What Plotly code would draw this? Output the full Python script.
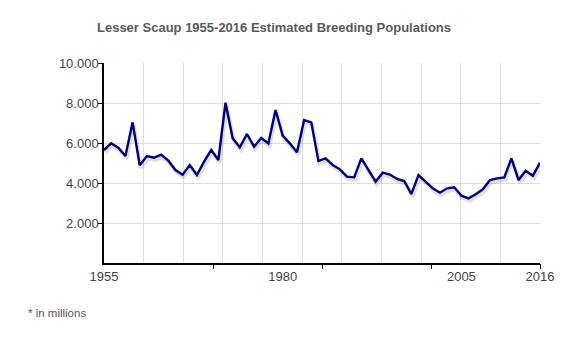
import plotly.graph_objects as go

years = list(range(1955, 2017))
population = [
    5650, 5983, 5767, 5350, 7033, 4883, 5350, 5267, 5417, 5117,
    4650, 4417, 4900, 4400, 5067, 5650, 5150, 8017, 6233, 5783,
    6450, 5817, 6250, 5983, 7650, 6367, 5983, 5533, 7150, 7033,
    5100, 5233, 4900, 4683, 4317, 4283, 5233, 4650, 4067, 4517,
    4420, 4200, 4100, 3450, 4400, 4067, 3733, 3517, 3733, 3783,
    3367, 3233, 3433, 3683, 4150, 4233, 4283, 5233, 4150, 4617,
    4367, 5017,
]
x_labels = [1955, 1980, 2005, 2016]
y_ticks = [2000, 4000, 6000, 8000, 10000]
x_marks = [1955 + 61 * k / 4 for k in range(1, 5)]

x0, x1 = 1955, 2016
y0, y1 = 0, 10000
font = "Liberation Sans, Arial, sans-serif"

px_per_year = 436 / 61
px_per_val = 200 / 10000
sx = 1.2 / px_per_year
sy = 2.5 / px_per_val

fig = go.Figure()
# soft shadow under the line (same data, axes shifted by a couple of pixels)
fig.add_trace(go.Scatter(
    x=years, y=population, xaxis="x4", yaxis="y2", mode="lines",
    line=dict(color="rgba(0,0,0,0.13)", width=4), hoverinfo="skip",
    showlegend=False,
))
fig.add_trace(go.Scatter(
    x=years, y=population, xaxis="x", yaxis="y", mode="lines",
    line=dict(color="#000080", width=2.4), showlegend=False,
))
# invisible helpers so the tick-only axes get drawn
for ax in ("x2", "x3"):
    fig.add_trace(go.Scatter(
        x=[x0, x1], y=[y0, y0], xaxis=ax, yaxis="y", mode="lines",
        line=dict(width=0, color="rgba(0,0,0,0)"), hoverinfo="skip",
        showlegend=False,
    ))

fig.update_layout(
    width=580, height=350,
    margin=dict(l=104, r=40, t=63, b=87),
    paper_bgcolor="white", plot_bgcolor="white",
    separators=",.",
    font=dict(family=font, size=13, color="#444"),
    title=dict(
        text="<b>Lesser Scaup 1955-2016 Estimated Breeding Populations</b>",
        x=274 / 580, xanchor="center", y=1 - 27 / 350, yanchor="middle",
        font=dict(family=font, size=13, color="#595959"),
    ),
    xaxis=dict(
        range=[x0, x1], tickmode="linear", tick0=1955, dtick=61 / 11,
        showticklabels=False, ticks="",
        showgrid=True, gridcolor="#dddddd", gridwidth=1, zeroline=False,
        showline=True, linecolor="#000", linewidth=1.5,
    ),
    xaxis2=dict(
        overlaying="x", anchor="y", range=[x0, x1], tickvals=x_marks,
        showticklabels=False, ticks="outside", ticklen=5, tickcolor="#000",
        showgrid=False, zeroline=False, showline=False, side="bottom",
    ),
    xaxis3=dict(
        overlaying="x", anchor="y", range=[x0, x1], tickvals=x_labels,
        ticktext=[str(v) for v in x_labels], ticks="", showgrid=False,
        zeroline=False, showline=False, side="bottom",
        ticklabelstandoff=4,
        tickfont=dict(family=font, size=13, color="#444"),
    ),
    xaxis4=dict(
        overlaying="x", anchor="y2", range=[x0 - sx, x1 - sx], visible=False,
    ),
    yaxis=dict(
        range=[y0, y1], tickvals=y_ticks, tickformat=",d",
        ticks="outside", ticklen=4, tickcolor="#000",
        showgrid=True, gridcolor="#dddddd", gridwidth=1, zeroline=False,
        showline=True, linecolor="#000", linewidth=1.5,
        ticklabelstandoff=-3,
        tickfont=dict(family=font, size=13, color="#444"),
    ),
    yaxis2=dict(
        overlaying="y", anchor="x4", range=[y0 + sy, y1 + sy], visible=False,
    ),
    annotations=[dict(
        text="* in millions", x=(26 - 104) / 436, y=(263 - 313) / 200,
        xref="paper", yref="paper", xanchor="left", yanchor="middle",
        showarrow=False, font=dict(family=font, size=11.5, color="#555"),
    )],
)

fig.write_html("out.html")
